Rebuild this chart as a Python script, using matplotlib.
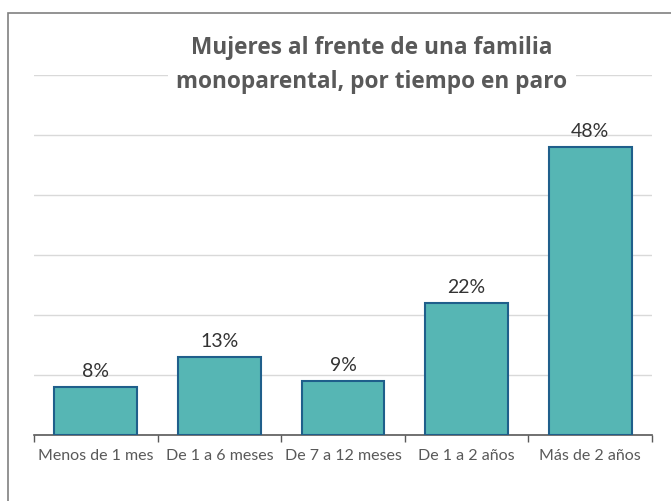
import matplotlib.pyplot as plt
from matplotlib.patches import Rectangle

categories = ["Menos de 1 mes", "De 1 a 6 meses", "De 7 a 12 meses",
              "De 1 a 2 años", "Más de 2 años"]
values = [8, 13, 9, 22, 48]
title = "Mujeres al frente de una familia\nmonoparental, por tiempo en paro"

plt.rcParams['font.family'] = ['Lato', 'DejaVu Sans']

fig = plt.figure(figsize=(6.71, 5.01), dpi=100)
ax = fig.add_axes([34 / 671, 1 - 435 / 501, 618 / 671, 360 / 501])

# outer chart frame
fig.patches.append(Rectangle((8 / 671, -0.1), 1.2, 1 - 13 / 501 + 0.1,
                             transform=fig.transFigure, fill=False,
                             edgecolor='#808080', linewidth=1.2))

x = range(len(categories))
bars = ax.bar(x, values, width=0.67, color='#56b6b4', edgecolor='#1f5f8b',
              linewidth=1.5, zorder=3)

for b, v in zip(bars, values):
    ax.annotate(f"{v}%", (b.get_x() + b.get_width() / 2, b.get_height()),
                xytext=(0, 5), textcoords='offset points', ha='center',
                va='bottom', fontsize=14, color='#333333')

ax.set_xlim(-0.5, len(categories) - 0.5)
ax.set_ylim(0, 60)
ax.set_yticks(range(0, 61, 10))
ax.yaxis.grid(True, color='#d9d9d9', linewidth=1, zorder=0)
ax.tick_params(axis='y', length=0, labelleft=False)

ax.set_xticks([i - 0.5 for i in range(len(categories) + 1)], minor=False)
ax.set_xticklabels([])
ax.set_xticks(list(x), minor=True)
ax.set_xticklabels(categories, minor=True)
ax.tick_params(axis='x', which='major', length=5, width=1, color='#595959')
ax.tick_params(axis='x', which='minor', length=0, pad=10, labelsize=11.5,
               labelcolor='#595959')

for s in ['top', 'right', 'left']:
    ax.spines[s].set_visible(False)
ax.spines['bottom'].set_color('#595959')
ax.spines['bottom'].set_linewidth(1.2)

fig.text(372 / 671, 1 - 65 / 501, title, ha='center', va='center',
         fontsize=16.3, fontweight='bold', color='#595959',
         family=['Open Sans', 'DejaVu Sans'], linespacing=1.5,
         bbox=dict(facecolor='white', edgecolor='none', pad=6))

fig.savefig("out.png", dpi=100)
